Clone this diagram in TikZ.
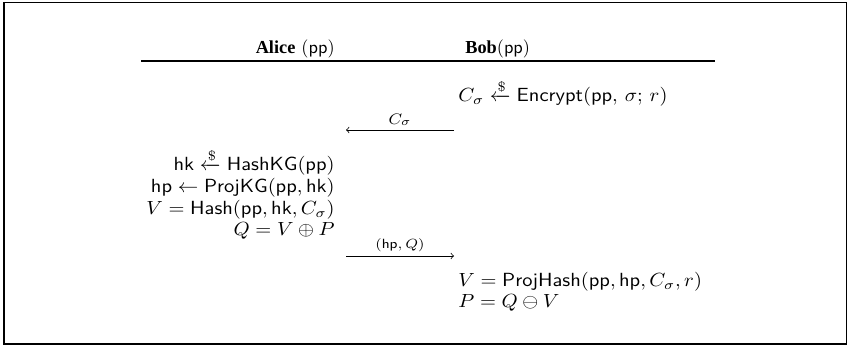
\documentclass[tikz,border=0pt]{standalone}
\usepackage{amsmath}
\usepackage{fontspec}
\newfontfamily\headfont{Liberation Serif}
\newcommand{\sampleleft}{\xleftarrow{\$}}
% protocol lines are set a little wider than the headers
\newcommand{\pline}[1]{\scalebox{1.12}[1.04]{$#1$}}
\begin{document}
\begin{tikzpicture}[x=0.5464pt,y=-0.5464pt,
  lcol/.style={anchor=base east, inner sep=0pt},
  rcol/.style={anchor=base west, inner sep=0pt},
  msg/.style={->, line width=0.4pt},
  lbl/.style={above, inner sep=2pt}]
\useasboundingbox (0,0) rectangle (847,345);
% outer frame
\draw[line width=0.55pt] (4,3) rectangle (846,344);

% party headers and rule
\node[lcol] (alice) at (335,54) {{\headfont\bfseries Alice} $(\mathsf{pp})$};
\node[rcol] (bob) at (465,54) {{\headfont\bfseries Bob}$(\mathsf{pp})$};
\draw[line width=0.8pt] (141,61) -- (715,61);

% Bob encrypts
\node[rcol] (enc) at (458,102) {\pline{C_\sigma \sampleleft \mathsf{Encrypt}(\mathsf{pp},\,\sigma;\,r)}};

% first message
\coordinate (m1s) at (454,130);
\coordinate (m1e) at (346,130);
\draw[msg] (m1s) -- node[lbl] {\footnotesize\pline{C_\sigma}} (m1e);

% Alice's computations
\node[lcol] (a1) at (335,171) {\pline{\mathsf{hk} \sampleleft \mathsf{HashKG}(\mathsf{pp})}};
\node[lcol] (a2) at (335,193) {\pline{\mathsf{hp} \leftarrow \mathsf{ProjKG}(\mathsf{pp},\mathsf{hk})}};
\node[lcol] (a3) at (335,215) {\pline{V = \mathsf{Hash}(\mathsf{pp},\mathsf{hk},C_\sigma)}};
\node[lcol] (a4) at (335,236) {\pline{Q = V \oplus P}};

% second message
\coordinate (m2s) at (346,256);
\coordinate (m2e) at (454,256);
\draw[msg] (m2s) -- node[lbl] {\scriptsize\pline{(\mathsf{hp},Q)}} (m2e);

% Bob's computations
\node[rcol] (b1) at (458,287) {\pline{V = \mathsf{ProjHash}(\mathsf{pp},\mathsf{hp},C_\sigma,r)}};
\node[rcol] (b2) at (458,308) {\pline{P = Q \ominus V}};
\end{tikzpicture}
\end{document}
